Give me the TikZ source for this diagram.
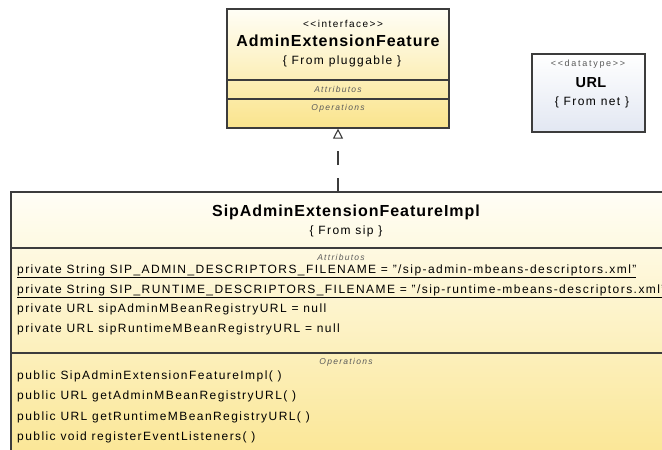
\documentclass[tikz,border=0pt]{standalone}
\usepackage{fontspec}
\setmainfont{Liberation Sans}
\usetikzlibrary{arrows.meta}
\definecolor{boxline}{HTML}{3C3C3C}
\definecolor{creamtop}{HTML}{FFFEF6}
\definecolor{yellowbot}{HTML}{FAE48C}
\definecolor{urltop}{HTML}{FFFFFF}
\definecolor{urlbot}{HTML}{E2E7F2}
\definecolor{comptext}{HTML}{5A5A5A}
\newcommand\membfont{\fontsize{12}{14}\selectfont\addfontfeatures{LetterSpace=12}}
\newcommand\titlefont{\fontsize{16}{19}\selectfont\bfseries\addfontfeatures{LetterSpace=6}}
\newcommand\stereofont{\fontsize{10}{12}\selectfont\addfontfeatures{LetterSpace=15}}
\newcommand\compfont{\fontsize{8.5}{10}\selectfont\itshape\color{comptext}\addfontfeatures{LetterSpace=15}}

\begin{document}
\begin{tikzpicture}[x=1pt,y=-1pt,
  classbox/.style={draw=boxline,line width=1.2pt,rectangle,inner sep=0pt,
    top color=creamtop,bottom color=yellowbot},
  typebox/.style={draw=boxline,line width=1.2pt,rectangle,inner sep=0pt,
    top color=urltop,bottom color=urlbot},
  divider/.style={draw=boxline,line width=1.1pt},
  cname/.style={font=\titlefont,anchor=base,inner sep=0pt},
  cfrom/.style={font=\membfont,anchor=base,inner sep=0pt},
  cstereo/.style={font=\stereofont,anchor=base,inner sep=0pt},
  ccomp/.style={font=\compfont,anchor=base,inner sep=0pt},
  member/.style={font=\membfont,anchor=base west,inner sep=0pt},
  realize/.style={draw=boxline,line width=1.1pt,dash pattern=on 14pt off 13pt,
    -{Triangle[open,length=10pt,width=10pt]}}]
  \useasboundingbox (0,0) rectangle (662,450);
  \clip (0,0) rectangle (662,450);

  \node[classbox,minimum width=222,minimum height=119] (iface) at (338,68.5) {};
  \draw[divider] (227,80) -- (449,80);
  \draw[divider] (227,99) -- (449,99);
  \node[cstereo] (ifaceSt) at (343,27) {<{}<interface>{}>};
  \node[cname] (ifaceName) at (338,46.5) {AdminExtensionFeature};
  \node[cfrom] (ifaceFrom) at (342,64) {\{ From pluggable \}};
  \node[ccomp] (ifaceAttr) at (338,92) {Attributos};
  \node[ccomp] (ifaceOps) at (338,110.5) {Operations};

  \node[typebox,minimum width=113,minimum height=78] (url) at (588.5,93) {};
  \node[cstereo,font=\fontsize{9}{10}\selectfont\color{comptext}\addfontfeatures{LetterSpace=19}] (urlSt) at (588,66) {<{}<datatype>{}>};
  \node[cname,font=\fontsize{14.5}{17}\selectfont\bfseries\addfontfeatures{LetterSpace=3}] (urlName) at (591,87) {URL};
  \node[cfrom] (urlFrom) at (592,105) {\{ From net \}};

  \node[classbox,minimum width=670,minimum height=290] (impl) at (346,337) {};
  \draw[divider] (11,248) -- (681,248);
  \draw[divider] (11,353) -- (681,353);
  \node[cname] (implName) at (346,216) {SipAdminExtensionFeatureImpl};
  \node[cfrom] (implFrom) at (346,234) {\{ From sip \}};
  \node[ccomp] (implAttr) at (341,260) {Attributos};
  \node[member] (a1) at (17,273) {\underline{private String SIP\_ADMIN\_DESCRIPTORS\_FILENAME = "/sip-admin-mbeans-descriptors.xml"}};
  \node[member] (a2) at (17,293) {\underline{private String SIP\_RUNTIME\_DESCRIPTORS\_FILENAME = "/sip-runtime-mbeans-descriptors.xml"}};
  \node[member] (a3) at (17,312.5) {private URL sipAdminMBeanRegistryURL = null};
  \node[member] (a4) at (17,332.5) {private URL sipRuntimeMBeanRegistryURL = null};
  \node[ccomp] (implOps) at (346,364) {Operations};
  \node[member] (o1) at (17,379) {public SipAdminExtensionFeatureImpl( )};
  \node[member] (o2) at (17,399.5) {public URL getAdminMBeanRegistryURL( )};
  \node[member] (o3) at (17,420) {public URL getRuntimeMBeanRegistryURL( )};
  \node[member] (o4) at (17,440.5) {public void registerEventListeners( )};

  \coordinate (implTop) at (338,192);
  \draw[realize] (implTop) -- (iface.south);
\end{tikzpicture}
\end{document}
